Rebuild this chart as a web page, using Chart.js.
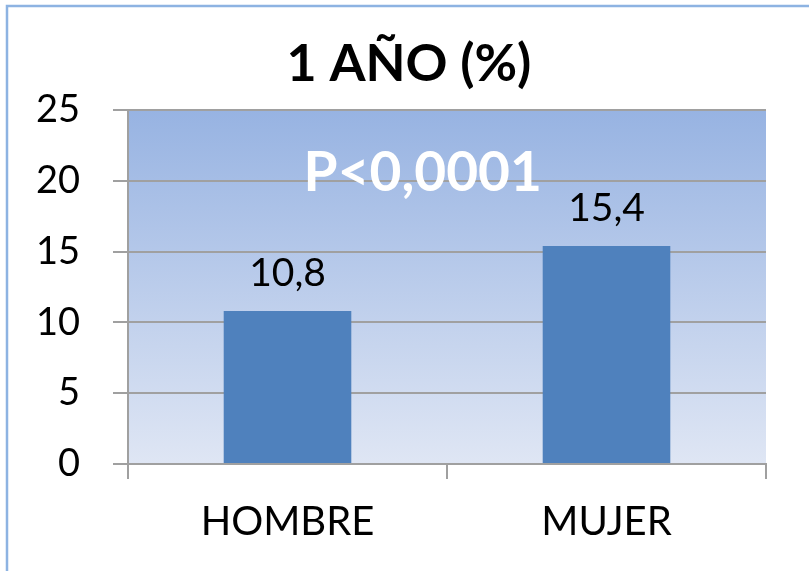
<!DOCTYPE html>
<html>
<head>
<meta charset="utf-8">
<script src="https://cdn.jsdelivr.net/npm/chart.js@4"></script>
<style>
  html, body { margin: 0; padding: 0; background: #ffffff; overflow: hidden; }
  #wrap { position: relative; width: 809px; height: 571px; }
</style>
</head>
<body>
<div id="wrap"><canvas id="c" width="809" height="571"></canvas></div>
<script>
const categories = ["HOMBRE", "MUJER"];
const values = [10.8, 15.4];
const yTicks = [0, 5, 10, 15, 20, 25];
const titleText = "1 AÑO (%)";
const noteText = "P<0,0001";

const FONT = "Lato, 'Open Sans', sans-serif";

const bgPlugin = {
  id: 'bgPlugin',
  beforeDraw(chart) {
    const { ctx, chartArea: a } = chart;
    ctx.save();
    const g = ctx.createLinearGradient(0, a.top, 0, a.bottom);
    g.addColorStop(0, '#97b3e2');
    g.addColorStop(1, '#dfe6f4');
    ctx.fillStyle = g;
    ctx.fillRect(a.left, a.top, a.right - a.left, a.bottom - a.top);
    // outer frame (left and top edges visible)
    ctx.strokeStyle = '#8db3e2';
    ctx.lineWidth = 2.5;
    ctx.beginPath();
    ctx.moveTo(7, 600);
    ctx.lineTo(7, 6);
    ctx.lineTo(820, 6);
    ctx.stroke();
    // title
    ctx.font = 'bold 52px ' + FONT;
    ctx.fillStyle = '#000000';
    ctx.textAlign = 'center';
    ctx.textBaseline = 'alphabetic';
    ctx.fillText(titleText, 409, 81);
    ctx.restore();
  }
};

const labelPlugin = {
  id: 'labelPlugin',
  afterDatasetsDraw(chart) {
    const { ctx, chartArea: a } = chart;
    const meta = chart.getDatasetMeta(0);
    ctx.save();
    ctx.font = '39px ' + FONT;
    ctx.fillStyle = '#000000';
    ctx.textAlign = 'center';
    ctx.textBaseline = 'alphabetic';
    meta.data.forEach((bar, i) => {
      const txt = values[i].toFixed(1).replace('.', ',');
      ctx.fillText(txt, bar.x, bar.y - 25);
    });
    // P-value note
    ctx.font = 'bold 55px ' + FONT;
    ctx.fillStyle = '#ffffff';
    ctx.textAlign = 'center';
    ctx.textBaseline = 'alphabetic';
    const cx = a.left + (a.right - a.left) * 0.462;
    ctx.fillText(noteText, cx, 191);
    ctx.restore();
  }
};

new Chart(document.getElementById('c'), {
  type: 'bar',
  data: {
    labels: categories,
    datasets: [{
      data: values,
      backgroundColor: '#4f81bd',
      borderWidth: 0,
      barPercentage: 0.4,
      categoryPercentage: 1.0
    }]
  },
  options: {
    responsive: false,
    animation: false,
    layout: { padding: { left: 0, right: 43, top: 110, bottom: 0 } },
    plugins: {
      legend: { display: false },
      tooltip: { enabled: false },
      title: { display: false }
    },
    scales: {
      x: {
        offset: true,
        grid: {
          offset: true,
          drawOnChartArea: false,
          drawTicks: true,
          tickLength: 15,
          color: '#a0a0a0',
          lineWidth: 2
        },
        border: { display: true, color: '#a0a0a0', width: 2 },
        ticks: {
          color: '#000000',
          font: { family: FONT, size: 40 },
          padding: 19
        },
        afterFit(scale) { scale.height = 107; }
      },
      y: {
        min: 0,
        max: 25,
        afterBuildTicks(scale) { scale.ticks = yTicks.map(v => ({ value: v })); },
        grid: {
          drawTicks: true,
          tickLength: 15,
          color: '#a0a0a0',
          lineWidth: 2
        },
        border: { display: true, color: '#a0a0a0', width: 2 },
        ticks: {
          color: '#000000',
          font: { family: FONT, size: 38 },
          padding: 33
        },
        afterFit(scale) { scale.width = 128; }
      }
    }
  },
  plugins: [bgPlugin, labelPlugin]
});
</script>
</body>
</html>
